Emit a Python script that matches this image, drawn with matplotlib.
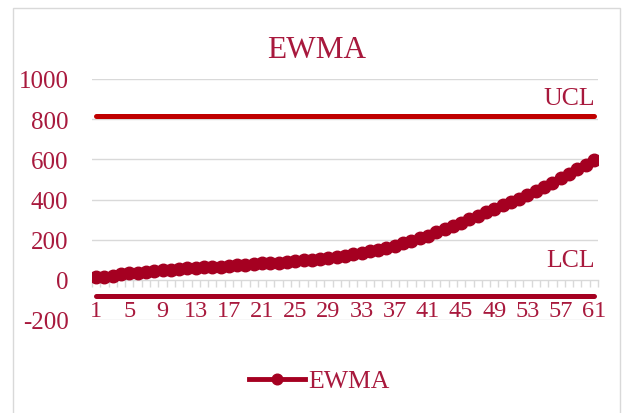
import matplotlib
matplotlib.use("Agg")
from matplotlib import pyplot as plt
from matplotlib.patches import Rectangle

plt.rcParams["font.family"] = ["Liberation Serif", "DejaVu Serif"]

# data
samples = list(range(1, 62))
ewma = [12, 15, 21, 27, 32, 36, 40, 44, 48, 51,
        54, 57, 60, 62, 64, 66, 69, 72, 75, 79,
        82, 84, 86, 89, 93, 97, 101, 105, 110, 115,
        121, 128, 135, 143, 151, 160, 170, 181, 193, 206,
        220, 236, 252, 268, 285, 302, 319, 337, 355, 371,
        387, 404, 421, 441, 461, 483, 505, 527, 551, 574,
        597]
ucl = 815
lcl = -82
x_labels = list(range(1, 62, 4))
y_ticks = [-200, 0, 200, 400, 600, 800, 1000]

TEXT = "#A8193D"
LINE = "#A50021"
UCL_COLOR = "#C00000"
GRID = "#D9D9D9"

fig = plt.figure(figsize=(6.23, 4.14), dpi=100)
ax = fig.add_axes([92 / 623, 1 - 321 / 414, 506 / 623, 241 / 414])

# outer chart border
fig.patches.append(Rectangle((13 / 623, -0.2), 607 / 623, 1.2 - 9 / 414,
                             transform=fig.transFigure, fill=False,
                             edgecolor=GRID, linewidth=1.0))

ax.set_xlim(0.5, 61.5)
ax.set_ylim(-200, 1000)

for v in [-200, 200, 400, 600, 800, 1000]:
    ax.axhline(v, color=GRID, linewidth=1.0, zorder=0)

for s in ["left", "right", "top"]:
    ax.spines[s].set_visible(False)
ax.spines["bottom"].set_position(("data", 0))
ax.spines["bottom"].set_color(GRID)
ax.spines["bottom"].set_linewidth(1.0)

ax.set_xticks([i + 0.5 for i in range(0, 62)])
ax.tick_params(axis="x", length=5, width=1.0, color=GRID, labelbottom=False)
ax.set_yticks(y_ticks)
ax.set_yticklabels([str(v) for v in y_ticks])
ax.tick_params(axis="y", length=0, pad=17, labelsize=18, labelcolor=TEXT)

for lab in x_labels:
    ax.text(lab, -152, str(lab), ha="center", va="center",
            fontsize=17.5, color=TEXT)

ax.plot(samples, [ucl] * len(samples), color=UCL_COLOR, linewidth=3.6,
        solid_capstyle="round", zorder=3)
ax.plot(samples, [lcl] * len(samples), color=LINE, linewidth=3.6,
        solid_capstyle="round", zorder=3)
line, = ax.plot(samples, ewma, color=LINE, linewidth=3.5, marker="o",
                markersize=9, label="EWMA", zorder=4)

ax.text(61.1, 905, "UCL", ha="right", va="center", fontsize=18.5, color=TEXT)
ax.text(61.1, 100, "LCL", ha="right", va="center", fontsize=18.5, color=TEXT)

fig.text(317 / 623, 1 - 50 / 414, "EWMA", ha="center", va="center",
         fontsize=22.5, color=TEXT)

fig.legend(handles=[line], loc="center", bbox_to_anchor=(319 / 623, 1 - 382 / 414),
           frameon=False, fontsize=18.5, handlelength=2.2, handletextpad=0.1,
           labelcolor=TEXT, borderpad=0, markerscale=0.85)

fig.savefig("out.png", dpi=100)
